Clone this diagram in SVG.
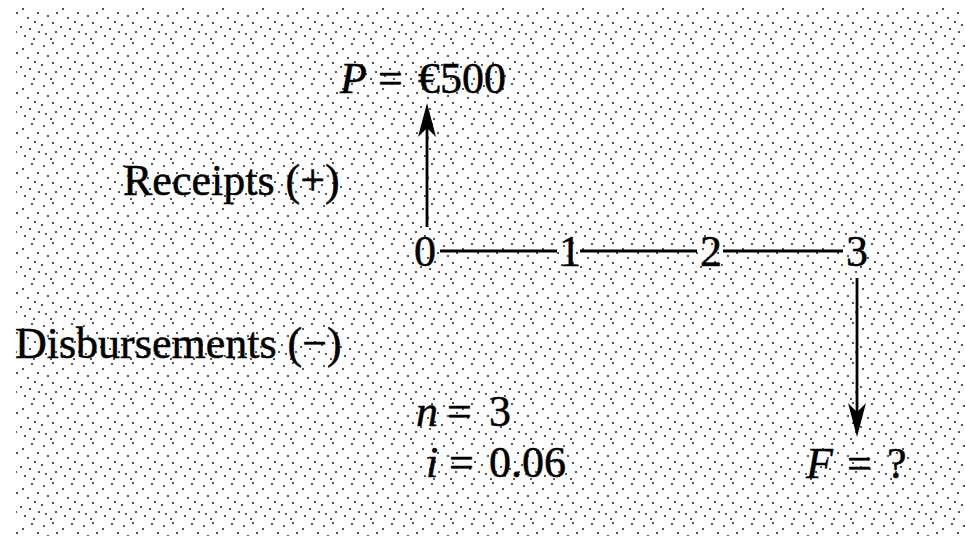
<svg xmlns="http://www.w3.org/2000/svg" width="965" height="536" viewBox="0 0 965 536">
  <style>
    .t { font-family: "Liberation Serif", "Times New Roman", serif; font-size: 44px; fill: #000; stroke: #000; stroke-width: 0.5; }
    .it { font-style: italic; }
    .ln { stroke: #000; stroke-width: 2.8; fill: none; }
  </style>
  <defs>
    <pattern id="stipple" x="0" y="0" width="40" height="40" patternUnits="userSpaceOnUse">
      <g fill="#555">
        <rect x="3" y="5" width="2" height="2"/>
        <rect x="12" y="2" width="2" height="2"/>
        <rect x="22" y="8" width="2" height="2"/>
        <rect x="31" y="3" width="2" height="2"/>
        <rect x="37" y="12" width="2" height="2"/>
        <rect x="7" y="15" width="2" height="2"/>
        <rect x="16" y="12" width="2" height="2"/>
        <rect x="27" y="17" width="2" height="2"/>
        <rect x="34" y="21" width="2" height="2"/>
        <rect x="1" y="24" width="2" height="2"/>
        <rect x="12" y="22" width="2" height="2"/>
        <rect x="20" y="26" width="2" height="2"/>
        <rect x="29" y="28" width="2" height="2"/>
        <rect x="38" y="31" width="2" height="2"/>
        <rect x="5" y="33" width="2" height="2"/>
        <rect x="15" y="31" width="2" height="2"/>
        <rect x="24" y="35" width="2" height="2"/>
        <rect x="33" y="38" width="2" height="2"/>
        <rect x="10" y="38" width="2" height="2"/>
      </g>
    </pattern>
    <marker id="arrow" viewBox="0 0 34 20" refX="22" refY="10" markerWidth="34" markerHeight="20" markerUnits="userSpaceOnUse" orient="auto">
      <path d="M34,10 L0,1 L9,10 L0,19 Z" fill="#000"/>
    </marker>
  </defs>

  <rect x="0" y="0" width="965" height="536" fill="#fff"/>
  <rect x="16" y="8" width="949" height="528" fill="url(#stipple)"/>

  <g id="connectors">
    <line class="ln" x1="440" y1="251" x2="557" y2="251"/>
    <line class="ln" x1="580" y1="251" x2="697" y2="251"/>
    <line class="ln" x1="723" y1="251" x2="843" y2="251"/>
    <line class="ln" x1="427" y1="227" x2="427" y2="115" marker-end="url(#arrow)"/>
    <line class="ln" x1="857" y1="278" x2="857" y2="425" marker-end="url(#arrow)"/>
  </g>

  <g id="P">
    <text class="t" x="340" y="93"><tspan class="it">P</tspan><tspan x="378">=</tspan><tspan x="418">€500</tspan></text>
  </g>
  <g id="receipts">
    <text class="t" x="123" y="195">Receipts (+)</text>
  </g>
  <g id="disbursements">
    <text class="t" x="15" y="358">Disbursements (−)</text>
  </g>
  <g id="t0"><text class="t" x="414" y="266">0</text></g>
  <g id="t1"><text class="t" x="559" y="266">1</text></g>
  <g id="t2"><text class="t" x="700" y="266">2</text></g>
  <g id="t3"><text class="t" x="846" y="266">3</text></g>
  <g id="n">
    <text class="t" x="416" y="426"><tspan class="it">n</tspan><tspan x="447">=</tspan><tspan x="489">3</tspan></text>
  </g>
  <g id="i">
    <text class="t" x="426" y="477"><tspan class="it">i</tspan><tspan x="449">=</tspan><tspan x="489">0.06</tspan></text>
  </g>
  <g id="F">
    <text class="t" x="806" y="478"><tspan class="it">F</tspan><tspan x="847">=</tspan><tspan x="887">?</tspan></text>
  </g>
</svg>
